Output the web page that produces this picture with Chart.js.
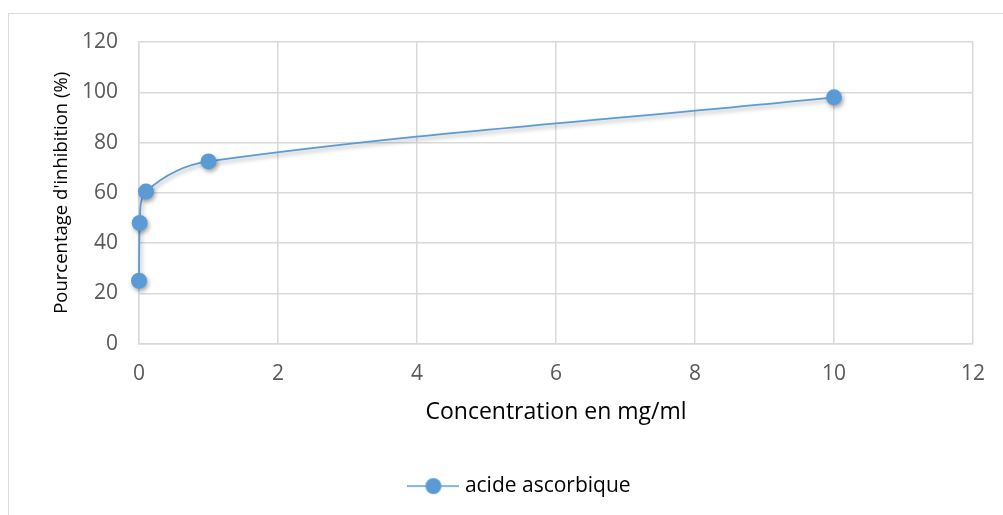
<!DOCTYPE html>
<html>
<head>
<meta charset="utf-8">
<script src="https://cdn.jsdelivr.net/npm/chart.js@4/dist/chart.umd.min.js"></script>
<style>
  body { margin: 0; background: #fff; overflow: hidden; }
  #frame { position: absolute; left: 8px; top: 13px; width: 2000px; height: 2000px; border: 1px solid #d9d9d9; }
  #chart-inhibition { position: absolute; left: 0; top: 0; }
</style>
</head>
<body>
<div id="frame"></div>
<canvas id="chart-inhibition" width="1003" height="515"></canvas>
<script>
// Data
const seriesName = 'acide ascorbique';
const concentrations = [0, 0.01, 0.1, 1, 10];
const inhibition = [25, 48, 60.5, 72.5, 98];
const xTicks = [0, 2, 4, 6, 8, 10, 12];
const yTicks = [0, 20, 40, 60, 80, 100, 120];

const blue = '#5b9bd5';
const fontFamily = "'Open Sans', 'Liberation Sans', sans-serif";

// legend symbol: line with a dot in the middle
const legendIcon = document.createElement('canvas');
legendIcon.width = 52;
legendIcon.height = 18;
(function () {
    const c = legendIcon.getContext('2d');
    c.strokeStyle = blue;
    c.lineWidth = 1.5;
    c.beginPath();
    c.moveTo(0, 9);
    c.lineTo(52, 9);
    c.stroke();
    c.fillStyle = blue;
    c.beginPath();
    c.arc(26, 9, 8, 0, Math.PI * 2);
    c.fill();
})();

const shadowPlugin = {
    id: 'markerShadow',
    afterLayout: function (chart) {
        // legend sits a bit right of centre in the original
        chart.legend.left += 34;
        chart.legend.right += 34;
    },
    beforeDatasetDraw: function (chart) {
        const ctx = chart.ctx;
        ctx.save();
        ctx.shadowColor = 'rgba(0,0,0,0.35)';
        ctx.shadowBlur = 4;
        ctx.shadowOffsetX = 1.5;
        ctx.shadowOffsetY = 2.5;
    },
    afterDatasetDraw: function (chart) {
        chart.ctx.restore();
    }
};

const points = concentrations.map(function (c, i) {
    return { x: c, y: inhibition[i] };
});

new Chart(document.getElementById('chart-inhibition'), {
    type: 'line',
    data: {
        datasets: [{
            label: seriesName,
            data: points,
            borderColor: blue,
            backgroundColor: blue,
            borderWidth: 1.8,
            pointRadius: 8,
            pointHoverRadius: 8,
            pointBackgroundColor: blue,
            pointBorderColor: blue,
            pointBorderWidth: 0,
            tension: 0.35,
            clip: false,
            pointStyle: 'circle'
        }]
    },
    options: {
        responsive: false,
        animation: false,
        layout: {
            padding: { top: 42, right: 28, left: 0, bottom: 8.4 }
        },
        plugins: {
            tooltip: { enabled: false },
            legend: {
                position: 'bottom',
                labels: {
                    usePointStyle: true,
                    pointStyleWidth: 42,
                    padding: 10,
                    color: '#000',
                    font: { family: fontFamily, size: 21 },
                    generateLabels: function (chart) {
                        return [{
                            text: seriesName,
                            pointStyle: legendIcon,
                            fillStyle: blue,
                            strokeStyle: blue,
                            lineWidth: 0,
                            datasetIndex: 0,
                            hidden: false
                        }];
                    }
                }
            }
        },
        scales: {
            x: {
                type: 'linear',
                min: 0,
                max: 12,
                afterFit: function (scale) { scale.height = 122; },
                afterBuildTicks: function (scale) {
                    scale.ticks = xTicks.map(function (v) { return { value: v }; });
                },
                grid: { color: '#d9d9d9', lineWidth: 1.5, drawTicks: false },
                border: { color: '#d9d9d9', width: 1.5 },
                ticks: {
                    padding: 18,
                    color: '#595959',
                    font: { family: fontFamily, size: 21 }
                },
                title: {
                    display: true,
                    text: 'Concentration en mg/ml',
                    color: '#000',
                    font: { family: fontFamily, size: 23 },
                    padding: { top: 0, bottom: 39 }
                }
            },
            y: {
                min: 0,
                max: 120,
                afterFit: function (scale) { scale.width = 139; },
                afterBuildTicks: function (scale) {
                    scale.ticks = yTicks.map(function (v) { return { value: v }; });
                },
                grid: { color: '#d9d9d9', lineWidth: 1.5, drawTicks: false },
                border: { color: '#d9d9d9', width: 1.5 },
                ticks: {
                    padding: 21,
                    color: '#595959',
                    font: { family: fontFamily, size: 21 }
                },
                title: {
                    display: true,
                    text: "Pourcentage d'inhibition (%)",
                    color: '#000',
                    font: { family: fontFamily, size: 18.5 },
                    padding: { top: 51, bottom: 0 }
                }
            }
        }
    },
    plugins: [shadowPlugin]
});
</script>
</body>
</html>
